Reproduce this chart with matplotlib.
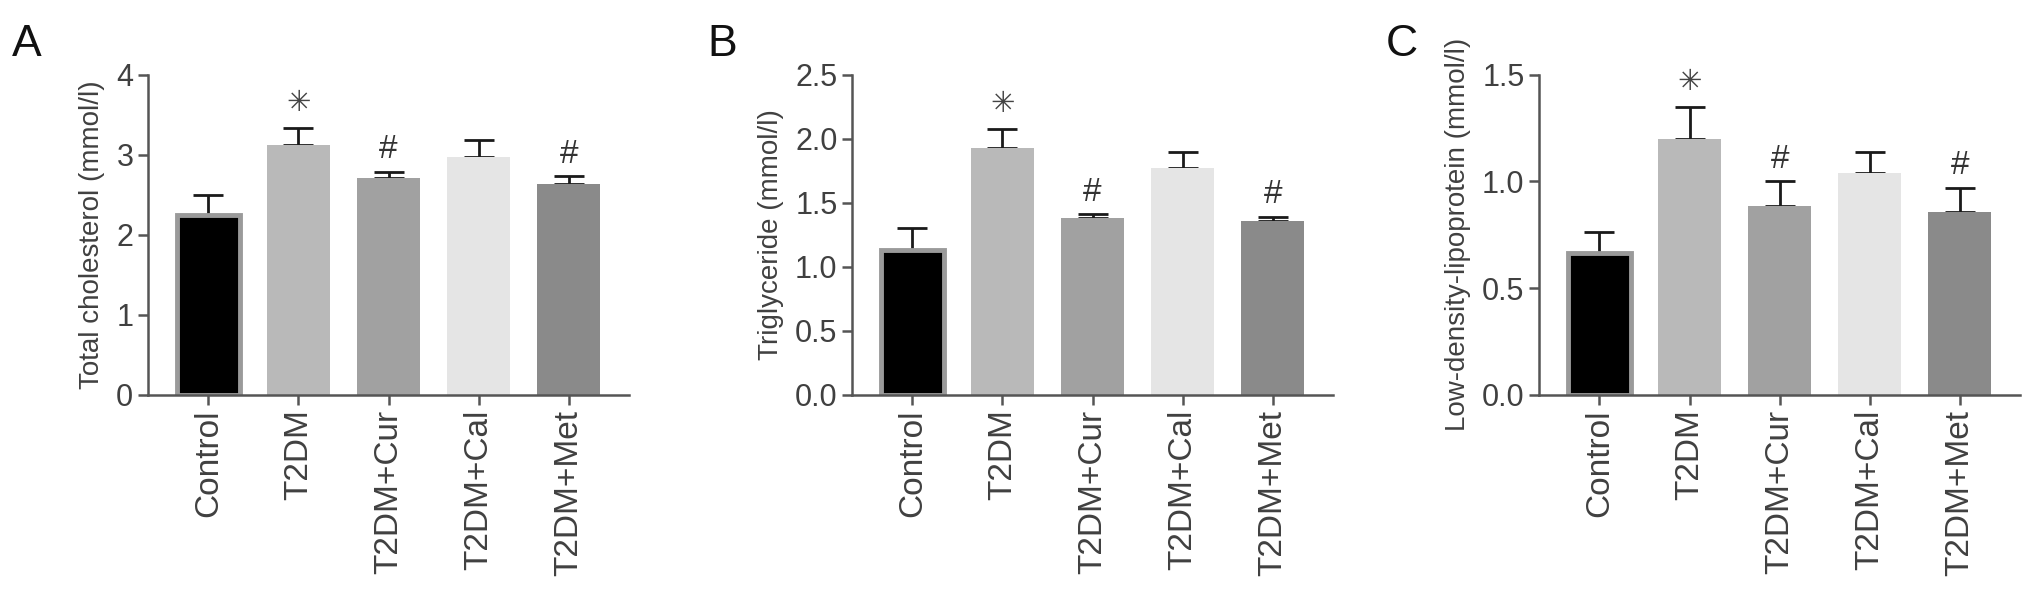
import numpy as np
import matplotlib.pyplot as plt

plt.rcParams['font.family'] = ['Liberation Sans', 'DejaVu Sans']

groups = ['Control', 'T2DM', 'T2DM+Cur', 'T2DM+Cal', 'T2DM+Met']
bar_colors = ['#000000', '#b9b9b9', '#a1a1a1', '#e5e5e5', '#8a8a8a']

# panel A - total cholesterol
tc_mean = [2.25, 3.12, 2.71, 2.97, 2.64]
tc_err = [0.25, 0.21, 0.08, 0.21, 0.09]
# panel B - triglyceride
tg_mean = [1.13, 1.93, 1.38, 1.77, 1.36]
tg_err = [0.17, 0.15, 0.03, 0.13, 0.03]
# panel C - LDL
ldl_mean = [0.665, 1.20, 0.885, 1.04, 0.855]
ldl_err = [0.10, 0.15, 0.115, 0.10, 0.115]

marks = ['', '\u2733', '#', '', '#']

panels = [
    ('A', tc_mean, tc_err, 'Total cholesterol (mmol/l)', [0, 1, 2, 3, 4], '%d'),
    ('B', tg_mean, tg_err, 'Triglyceride (mmol/l)', [0, 0.5, 1.0, 1.5, 2.0, 2.5], '%.1f'),
    ('C', ldl_mean, ldl_err, 'Low-density-lipoprotein (mmol/l)', [0, 0.5, 1.0, 1.5], '%.1f'),
]

lefts = [0.0728, 0.4193, 0.7574]
letter_x = [0.006, 0.348, 0.682]
axw = 0.2368
bottom, height = 0.334, 0.54
txt = '#404040'

fig = plt.figure(figsize=(20.32, 5.93), dpi=100)

for i, (letter, mean, err, ylab, yt, fmt) in enumerate(panels):
    ax = fig.add_axes([lefts[i], bottom, axw, height])
    x = np.arange(len(groups))
    ax.errorbar(x, mean, yerr=[np.zeros(len(mean)), err], fmt='none',
                ecolor='#1a1a1a', elinewidth=2.0, capsize=11, capthick=2.0, zorder=1)
    bars = ax.bar(x, mean, width=0.70, color=bar_colors, zorder=2, linewidth=0)
    bars[0].set_edgecolor('#9a9a9a')
    bars[0].set_linewidth(3.5)
    ymax = yt[-1]
    for xi, m, e, s in zip(x, mean, err, marks):
        if s == '#':
            ax.annotate(s, (xi, m + e), xytext=(0, 16), textcoords='offset points',
                        ha='center', va='center', fontsize=24, color='#333333')
        elif s:
            ax.annotate(s, (xi, m + e), xytext=(0, 18), textcoords='offset points',
                        ha='center', va='center', fontsize=21, color='#444444',
                        family='DejaVu Sans')
    ax.set_xlim(-0.67, 4.67)
    ax.set_ylim(0, ymax)
    ax.set_yticks(yt)
    ax.set_yticklabels([fmt % v for v in yt])
    ax.set_xticks(x)
    ax.set_xticklabels(groups, rotation=90, fontsize=24)
    ax.set_ylabel(ylab, fontsize=20, color=txt, labelpad=8)
    for sp in ['top', 'right']:
        ax.spines[sp].set_visible(False)
    for sp in ['left', 'bottom']:
        ax.spines[sp].set_linewidth(1.8)
        ax.spines[sp].set_color('#555555')
    ax.tick_params(axis='both', colors='#555555', labelcolor=txt, width=1.8, length=7)
    ax.tick_params(axis='y', labelsize=22)
    ax.spines['left'].set_bounds(0, ymax)
    fig.text(letter_x[i], 0.96, letter, fontsize=32, va='top', ha='left', color='#111111')

fig.savefig('out.png', dpi=100)
